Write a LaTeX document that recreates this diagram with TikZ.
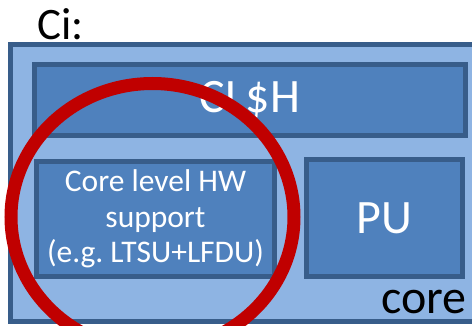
\documentclass[tikz,border=0pt]{standalone}
\usepackage{fontspec}
\setmainfont{Carlito}
\frenchspacing
\definecolor{lightfill}{HTML}{8EB4E3}
\definecolor{boxfill}{HTML}{4F81BD}
\definecolor{boxline}{HTML}{385D8A}
\definecolor{markred}{HTML}{C00000}
\begin{document}
\begin{tikzpicture}[x=1pt,y=-1pt,
  unit/.style={draw=boxline, line width=5pt, fill=boxfill, text=white,
    rectangle, inner sep=0pt, outer sep=0pt, align=center},
  bigtext/.style={font=\fontsize{48}{56}\selectfont},
  smalltext/.style={font=\fontsize{31.5}{35.5}\selectfont}]
  \useasboundingbox (0,0) rectangle (472,326);
  \clip (0,0) rectangle (472,326);
  % core frame (runs past the right edge)
  \node[draw=boxline, line width=5pt, fill=lightfill, rectangle,
        inner sep=0pt, minimum width=472pt, minimum height=277pt] (core) at (246,183) {};
  % cache
  \node[unit, bigtext, minimum width=431pt, minimum height=71pt] (clsh) at (250,100) {CL\$H};
  % hardware support unit
  \node[unit, smalltext, minimum width=238pt, minimum height=115pt] (hw) at (155.5,219)
    {Core level HW\\support\\(e.g. LTSU+LFDU)};
  % processing unit
  \node[unit, bigtext, minimum width=156pt, minimum height=117pt] (pu) at (384.5,218) {PU};
  % labels
  \node[anchor=base west, inner sep=0pt, font=\fontsize{45}{52}\selectfont] (ci) at (37,40) {Ci:};
  \node[anchor=base east, inner sep=0pt, bigtext] (corelbl) at (467,313) {core};
  % red highlight ring
  \draw[markred, line width=13pt] (152.5,217) ellipse [x radius=141.5pt, y radius=133.5pt];
\end{tikzpicture}
\end{document}
